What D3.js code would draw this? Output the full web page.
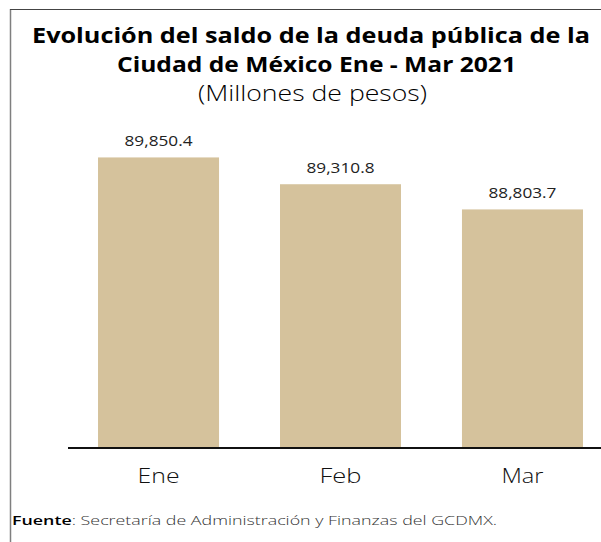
<!DOCTYPE html>
<html>
<head>
<meta charset="utf-8">
<script src="https://cdn.jsdelivr.net/npm/d3@7"></script>
<style>
  body { margin: 0; background: #fff; }
  svg { display: block; }
</style>
</head>
<body>
<svg id="chart" width="601" height="542"></svg>
<script>
// datos del grafico
var meses = ["Ene", "Feb", "Mar"];
var saldos = [89850.4, 89310.8, 88803.7];
var etiquetas = ["89,850.4", "89,310.8", "88,803.7"];

var fontFam = "'Open Sans', 'Noto Sans', sans-serif";
var svg = d3.select("#chart");

// marco
svg.append("line").attr("x1", 10.5).attr("x2", 10.5).attr("y1", 9).attr("y2", 542)
  .attr("stroke", "#7f7f7f").attr("stroke-width", 1.5);
svg.append("line").attr("x1", 10).attr("x2", 601).attr("y1", 9.5).attr("y2", 9.5)
  .attr("stroke", "#444").attr("stroke-width", 1);

// titulo
var title = svg.append("g").attr("font-family", fontFam).attr("text-anchor", "middle");
title.append("text").attr("x", 311).attr("y", 43).attr("font-size", 22).attr("font-weight", 700)
  .attr("textLength", 558).attr("lengthAdjust", "spacingAndGlyphs")
  .text("Evolución del saldo de la deuda pública de la");
title.append("text").attr("x", 316.5).attr("y", 72).attr("font-size", 22).attr("font-weight", 700)
  .attr("textLength", 399).attr("lengthAdjust", "spacingAndGlyphs")
  .text("Ciudad de México Ene - Mar 2021");
title.append("text").attr("x", 312.5).attr("y", 101).attr("font-size", 22).attr("font-weight", 300)
  .attr("textLength", 229).attr("lengthAdjust", "spacingAndGlyphs")
  .text("(Millones de pesos)");

var x = d3.scaleBand().domain(meses).range([68, 613]).paddingInner(0.335).paddingOuter(0.165);
var y = d3.scaleLinear().domain([84000, 90000]).range([448, 150]);

svg.selectAll("rect.bar").data(saldos).enter().append("rect")
  .attr("class", "bar")
  .attr("x", function (d, i) { return x(meses[i]); })
  .attr("width", x.bandwidth())
  .attr("y", function (d) { return y(d); })
  .attr("height", function (d) { return y(84000) - y(d); })
  .attr("fill", "#d5c29c");

svg.selectAll("text.val").data(saldos).enter().append("text")
  .attr("class", "val")
  .attr("x", function (d, i) { return x(meses[i]) + x.bandwidth() / 2; })
  .attr("y", function (d) { return y(d) - 11; })
  .attr("text-anchor", "middle")
  .attr("font-family", fontFam).attr("font-size", 15).attr("fill", "#222")
  .attr("textLength", 68).attr("lengthAdjust", "spacingAndGlyphs")
  .text(function (d, i) { return etiquetas[i]; });

// eje x
var xAxis = svg.append("g").attr("transform", "translate(0,448)")
  .call(d3.axisBottom(x).tickSize(0).tickPadding(20));
xAxis.select(".domain").attr("d", "M68,0H601").attr("stroke", "#111").attr("stroke-width", 2);
xAxis.selectAll("text").attr("font-family", fontFam).attr("font-size", 21).attr("fill", "#111")
  .attr("font-weight", 300)
  .attr("textLength", 42).attr("lengthAdjust", "spacingAndGlyphs");

// fuente
var foot = svg.append("text").attr("x", 12).attr("y", 525)
  .attr("font-family", fontFam).attr("font-size", 13).attr("fill", "#333")
  .attr("textLength", 485).attr("lengthAdjust", "spacingAndGlyphs");
foot.append("tspan").attr("font-weight", 600).attr("fill", "#000").text("Fuente");
foot.append("tspan").attr("font-weight", 300).text(": Secretaría de Administración y Finanzas del GCDMX.");
</script>
</body>
</html>
